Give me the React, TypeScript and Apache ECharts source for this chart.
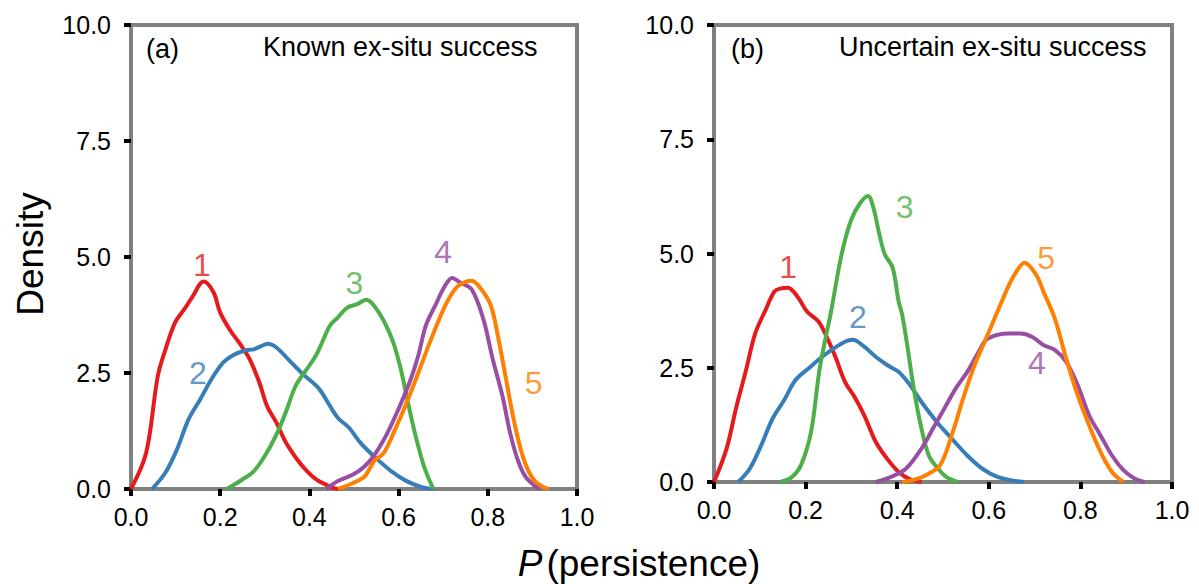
import React, { useEffect, useRef } from "react";
import * as echarts from "echarts";

// ---- data: panel (a) Known ex-situ success ----
const a1 = [[0,0],[0.034,0.78],[0.06,2.43],[0.077,3.0],[0.099,3.59],[0.12,3.88],[0.137,4.13],[0.163,4.47],[0.185,4.24],[0.2,3.8],[0.223,3.41],[0.245,3.12],[0.266,2.8],[0.288,2.29],[0.305,1.79],[0.326,1.43],[0.348,0.99],[0.373,0.63],[0.395,0.38],[0.416,0.2],[0.438,0.09],[0.455,0.02],[0.47,0]];
const a2 = [[0.047,0],[0.077,0.35],[0.103,0.85],[0.129,1.5],[0.155,1.93],[0.18,2.36],[0.206,2.72],[0.232,2.9],[0.258,2.99],[0.275,3.01],[0.292,3.08],[0.306,3.13],[0.326,3.05],[0.352,2.8],[0.386,2.47],[0.42,2.18],[0.446,1.79],[0.464,1.53],[0.489,1.32],[0.515,0.99],[0.549,0.67],[0.584,0.38],[0.618,0.17],[0.652,0.04],[0.678,0]];
const a3 = [[0.215,0],[0.249,0.2],[0.275,0.38],[0.3,0.71],[0.326,1.17],[0.348,1.68],[0.369,2.22],[0.391,2.54],[0.416,2.9],[0.433,3.26],[0.446,3.52],[0.464,3.7],[0.485,3.91],[0.506,3.98],[0.528,4.08],[0.545,3.95],[0.567,3.62],[0.588,3.16],[0.605,2.58],[0.618,2.0],[0.631,1.43],[0.644,0.92],[0.657,0.49],[0.67,0.17],[0.678,0]];
const a4 = [[0.438,0],[0.464,0.17],[0.498,0.31],[0.524,0.49],[0.549,0.78],[0.575,1.21],[0.601,1.75],[0.627,2.36],[0.644,2.87],[0.661,3.52],[0.682,3.95],[0.704,4.38],[0.72,4.55],[0.738,4.45],[0.764,4.3],[0.79,3.66],[0.811,2.8],[0.833,2.0],[0.85,1.21],[0.867,0.63],[0.884,0.27],[0.906,0.06],[0.918,0]];
const a5 = [[0.464,0],[0.498,0.13],[0.524,0.27],[0.545,0.6],[0.567,0.78],[0.592,1.28],[0.618,1.86],[0.644,2.5],[0.67,3.16],[0.691,3.66],[0.712,4.09],[0.734,4.38],[0.764,4.49],[0.785,4.31],[0.807,3.95],[0.824,3.23],[0.841,2.36],[0.858,1.5],[0.876,0.78],[0.893,0.35],[0.91,0.13],[0.936,0]];

// ---- data: panel (b) Uncertain ex-situ success ----
const b1 = [[0,0],[0.0275,0.73],[0.048,1.61],[0.069,2.41],[0.09,3.25],[0.111,3.73],[0.132,4.17],[0.144,4.23],[0.161,4.25],[0.182,4.06],[0.203,3.73],[0.228,3.51],[0.244,3.22],[0.265,2.74],[0.286,2.19],[0.307,1.86],[0.328,1.46],[0.353,0.88],[0.378,0.51],[0.403,0.22],[0.428,0.06],[0.453,0]];
const b2 = [[0.053,0],[0.078,0.29],[0.103,0.8],[0.128,1.39],[0.153,1.79],[0.178,2.23],[0.207,2.49],[0.236,2.74],[0.261,2.92],[0.286,3.07],[0.303,3.11],[0.328,2.96],[0.353,2.74],[0.378,2.56],[0.403,2.41],[0.428,2.12],[0.453,1.75],[0.486,1.32],[0.519,0.95],[0.553,0.58],[0.586,0.29],[0.619,0.11],[0.653,0.03],[0.678,0]];
const b3 = [[0.144,0],[0.169,0.1],[0.19,0.37],[0.212,1.1],[0.231,2.5],[0.255,3.7],[0.279,5.0],[0.3,5.75],[0.319,6.1],[0.336,6.26],[0.348,6.0],[0.361,5.42],[0.373,4.98],[0.39,4.69],[0.403,3.96],[0.411,3.65],[0.423,2.92],[0.436,2.05],[0.453,1.17],[0.469,0.58],[0.486,0.33],[0.507,0.11],[0.532,0]];
const b4 = [[0.353,0],[0.386,0.11],[0.419,0.29],[0.453,0.73],[0.478,1.17],[0.503,1.61],[0.528,2.05],[0.553,2.41],[0.578,2.85],[0.594,3.11],[0.619,3.22],[0.644,3.25],[0.669,3.25],[0.694,3.18],[0.719,3.0],[0.744,2.89],[0.769,2.63],[0.794,2.12],[0.819,1.46],[0.844,1.02],[0.869,0.58],[0.894,0.26],[0.919,0.07],[0.94,0]];
const b5 = [[0.411,0],[0.444,0.07],[0.469,0.18],[0.494,0.37],[0.519,1.02],[0.544,1.83],[0.569,2.56],[0.594,3.14],[0.619,3.73],[0.644,4.31],[0.66,4.6],[0.678,4.8],[0.703,4.54],[0.72,4.15],[0.744,3.58],[0.769,2.7],[0.794,1.9],[0.819,1.24],[0.844,0.66],[0.869,0.22],[0.894,0]];

// curve number labels: [x, y, text]
const labelsA = [[0.159,4.83,"1"],[0.15,2.5,"2"],[0.501,4.44,"3"],[0.70,5.11,"4"],[0.903,2.28,"5"]];
const labelsB = [[0.162,4.70,"1"],[0.314,3.62,"2"],[0.416,6.02,"3"],[0.705,2.6,"4"],[0.725,4.9,"5"]];

const colors = ["#e41a1c", "#377eb8", "#4daf4a", "#984ea3", "#ff7f00"];
const xTickValues = [0, 0.2, 0.4, 0.6, 0.8, 1.0];
const yTickValues = [0, 2.5, 5.0, 7.5, 10.0];
const panelTitles = ["Known ex-situ success", "Uncertain ex-situ success"];
const panelTags = ["(a)", "(b)"];

const FONT = "'Liberation Sans', Arial, sans-serif";
const GRAY = "#808080";

export default function App() {
  const ref = useRef<HTMLDivElement>(null);
  useEffect(() => {
    if (!ref.current) return;
    const chart = echarts.init(ref.current, undefined, { renderer: "svg" });
    const grids = [
      { left: 131, top: 25, width: 446, height: 464 },
      { left: 714, top: 25, width: 458, height: 457 },
    ];
    const mkX = (i: number) => ({
      type: "value", gridIndex: i, min: xTickValues[0], max: xTickValues[xTickValues.length - 1], interval: 0.2,
      axisLine: { show: true, lineStyle: { color: GRAY, width: 4 } },
      axisTick: { show: true, length: 7, lineStyle: { color: "#000", width: 4 } },
      axisLabel: { fontSize: 25, color: "#000", fontFamily: FONT, margin: 15, formatter: (v: number) => v.toFixed(1) },
      splitLine: { show: false },
    });
    const mkY = (i: number) => ({
      type: "value", gridIndex: i, min: yTickValues[0], max: yTickValues[yTickValues.length - 1], interval: 2.5,
      axisLine: { show: true, lineStyle: { color: GRAY, width: 4 } },
      axisTick: { show: true, length: 7, lineStyle: { color: "#000", width: 4 } },
      axisLabel: { fontSize: 25, color: "#000", fontFamily: FONT, margin: 20, formatter: (v: number) => v.toFixed(1) },
      splitLine: { show: false },
    });
    const lineS = (data: number[][], c: string, i: number) => ({
      type: "line", xAxisIndex: i, yAxisIndex: i, data, smooth: 0.35, symbol: "none",
      lineStyle: { color: c, width: 4 }, silent: true, z: 3,
    });
    const labS = (labs: any[][], i: number) => ({
      type: "scatter", xAxisIndex: i, yAxisIndex: i, symbolSize: 1, silent: true, z: 5,
      itemStyle: { color: "rgba(0,0,0,0)" },
      data: labs.map((l, k) => ({
        value: [l[0], l[1]],
        label: { show: true, position: "inside", formatter: l[2], color: colors[k], fontSize: 32, fontFamily: FONT },
      })),
    });
    const panelA = [a1, a2, a3, a4, a5];
    const panelB = [b1, b2, b3, b4, b5];
    chart.setOption({
      animation: false,
      grid: grids.map((g) => ({ ...g, show: true, borderColor: GRAY, borderWidth: 4, backgroundColor: "transparent" })),
      xAxis: [mkX(0), mkX(1)],
      yAxis: [mkY(0), mkY(1)],
      series: [
        ...panelA.map((d, k) => lineS(d, colors[k], 0)),
        ...panelB.map((d, k) => lineS(d, colors[k], 1)),
        labS(labelsA, 0),
        labS(labelsB, 1),
      ],
      graphic: [
        { type: "text", x: 146, y: 49, style: { text: panelTags[0], font: `27px ${FONT}`, fill: "#000", verticalAlign: "middle" } },
        { type: "text", x: 263, y: 47, style: { text: panelTitles[0], font: `27px ${FONT}`, fill: "#000", verticalAlign: "middle" } },
        { type: "text", x: 731, y: 49, style: { text: panelTags[1], font: `27px ${FONT}`, fill: "#000", verticalAlign: "middle" } },
        { type: "text", x: 839, y: 47, style: { text: panelTitles[1], font: `27px ${FONT}`, fill: "#000", verticalAlign: "middle" } },
        { type: "text", x: 30, y: 254, rotation: Math.PI / 2,
          style: { text: "Density", font: `37px ${FONT}`, fill: "#000", align: "center", verticalAlign: "middle" } },
        { type: "text", x: 639, y: 563,
          style: {
            text: "{i|P}{n|(persistence)}", align: "center", verticalAlign: "middle", fill: "#000",
            rich: {
              i: { fontStyle: "italic", fontSize: 37, fontFamily: FONT, padding: [0, 4, 0, 0] },
              n: { fontSize: 37, fontFamily: FONT },
            },
          } },
      ],
    });
    return () => chart.dispose();
  }, []);
  return <div ref={ref} style={{ position: "fixed", left: 0, top: 0, width: 1199, height: 584, background: "#fff" }} />;
}
